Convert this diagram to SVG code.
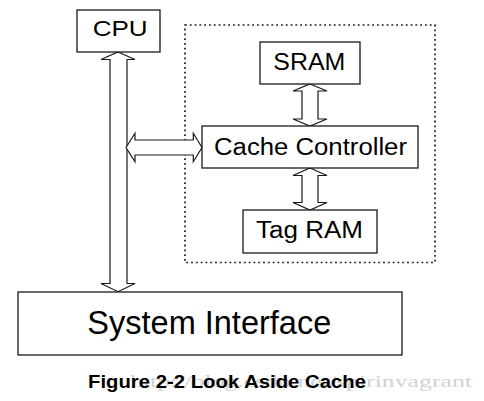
<svg xmlns="http://www.w3.org/2000/svg" width="484" height="401" viewBox="0 0 484 401">
<style>
.box{fill:#fff;stroke:#1a1a1a;stroke-width:1.3}
.arr{fill:#fff;stroke:#1a1a1a;stroke-width:1.2;stroke-linejoin:miter}
.lbl{font-family:"Liberation Sans",Arial,sans-serif;fill:#000}
.group{fill:none;stroke:#1a1a1a;stroke-width:1.7;stroke-dasharray:1.8 3}
</style>
<rect width="484" height="401" fill="#fff"/>
<rect id="cache-subsystem" class="group" x="185" y="25" width="250" height="237.5"/>
<g id="connectors">
<polygon class="arr" points="118,52 135,59.5 127,59.5 127,283.5 135,283.5 118,291.7 101,283.5 110,283.5 110,59.5 101,59.5"/>
<polygon class="arr" points="126,147.5 135,133.3 135,140 193.3,140 193.3,133.3 202,147.5 193.3,161.7 193.3,155 135,155 135,161.7"/>
<polygon class="arr" points="310,84 327,91 318,91 318,119 327,119 310,126 293,119 302,119 302,91 293,91"/>
<polygon class="arr" points="310,168 327,175.5 318,175.5 318,202.5 327,202.5 310,210 293,202.5 302,202.5 302,175.5 293,175.5"/>
</g>
<g id="cpu">
<rect class="box" x="77" y="10" width="83" height="42"/>
<text class="lbl" x="92.7" y="36.3" font-size="22" textLength="55" lengthAdjust="spacingAndGlyphs">CPU</text>
</g>
<g id="sram">
<rect class="box" x="260" y="42" width="100" height="42"/>
<text class="lbl" x="273.3" y="70.3" font-size="23" textLength="72" lengthAdjust="spacingAndGlyphs">SRAM</text>
</g>
<g id="cache-controller">
<rect class="box" x="202" y="126" width="216" height="42"/>
<text class="lbl" x="214" y="154.5" font-size="23" textLength="193" lengthAdjust="spacingAndGlyphs">Cache Controller</text>
</g>
<g id="tag-ram">
<rect class="box" x="243" y="210" width="134" height="43"/>
<text class="lbl" x="256" y="238" font-size="23" textLength="107" lengthAdjust="spacingAndGlyphs">Tag RAM</text>
</g>
<g id="system-interface">
<rect class="box" x="18" y="292" width="384" height="63"/>
<text class="lbl" x="87.3" y="334" font-size="33" textLength="244" lengthAdjust="spacingAndGlyphs">System Interface</text>
</g>
<text x="130" y="387" font-family="Liberation Serif,serif" font-size="17" fill="#d2d2d2" textLength="342" lengthAdjust="spacingAndGlyphs">http://blog.csdn.net/spirinvagrant</text>
<text class="lbl" x="88" y="387.7" font-size="18" font-weight="bold" textLength="278" lengthAdjust="spacingAndGlyphs">Figure 2-2 Look Aside Cache</text>
</svg>
